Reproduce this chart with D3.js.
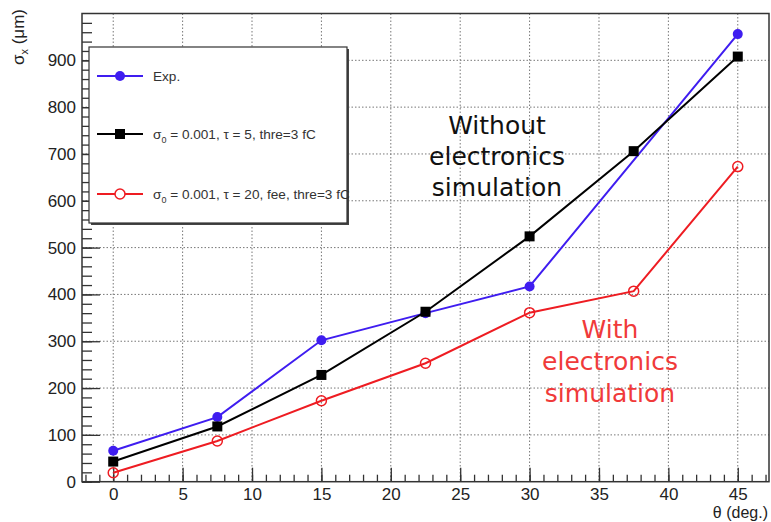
<!DOCTYPE html>
<html>
<head>
<meta charset="utf-8">
<script src="https://cdn.jsdelivr.net/npm/d3@7"></script>
<style>
  body { margin: 0; background: #fff; }
  svg { display: block; font-family: "Liberation Sans", Arial, sans-serif; }
</style>
</head>
<body>
<svg id="chart"></svg>
<script>
// Chart size matches the window
const width = 771;
const height = 522;

// Data
const theta = [0, 7.5, 15, 22.5, 30, 37.5, 45];
const expTheta = [0, 7.5, 15, 22.5, 30, 45];
const expVals = [66, 138, 302, 360, 417, 956];
const tau5Vals = [43, 118, 228, 363, 524, 706, 908];
const tau20Vals = [19, 87, 173, 253, 361, 407, 673];

const xTicks = [0, 5, 10, 15, 20, 25, 30, 35, 40, 45];
const yTicks = [0, 100, 200, 300, 400, 500, 600, 700, 800, 900];
const xMinor = d3.range(-2, 48, 1);
const yMinor = d3.range(0, 1000, 20);

const legendLabels = ["Exp.", "= 0.001, \u03c4 = 5, thre=3 fC", "= 0.001, \u03c4 = 20, fee, thre=3 fC"];

// Frame of the plot area
const plotLeft = 82, plotRight = 769, plotTop = 13.5, plotBottom = 481.7;

const svg = d3.select("#chart")
    .attr("width", width)
    .attr("height", height);

const x = d3.scaleLinear().domain([-2.25, 47.25]).range([plotLeft, plotRight]);
const y = d3.scaleLinear().domain([0, 1000]).range([plotBottom, plotTop]);

// Dotted grid
svg.append("g").selectAll("line")
    .data(xTicks)
    .enter().append("line")
    .attr("x1", d => x(d)).attr("x2", d => x(d))
    .attr("y1", plotTop).attr("y2", plotBottom)
    .attr("stroke", "#777").attr("stroke-width", 1)
    .attr("stroke-dasharray", "1.5,2");

svg.append("g").selectAll("line")
    .data(yTicks.filter(d => d > 0))
    .enter().append("line")
    .attr("x1", plotLeft).attr("x2", plotRight)
    .attr("y1", d => y(d)).attr("y2", d => y(d))
    .attr("stroke", "#777").attr("stroke-width", 1)
    .attr("stroke-dasharray", "1.5,2");

// Axes, ticks pointing into the frame
const xMinorAxis = svg.append("g")
    .attr("transform", `translate(0,${plotBottom})`)
    .call(d3.axisBottom(x).tickValues(xMinor).tickSize(-7).tickFormat(""));
const xAxis = svg.append("g")
    .attr("transform", `translate(0,${plotBottom})`)
    .call(d3.axisBottom(x).tickValues(xTicks).tickSize(-14).tickPadding(6));

const yMinorAxis = svg.append("g")
    .attr("transform", `translate(${plotLeft},0)`)
    .call(d3.axisLeft(y).tickValues(yMinor).tickSize(-10).tickFormat(""));
const yAxis = svg.append("g")
    .attr("transform", `translate(${plotLeft},0)`)
    .call(d3.axisLeft(y).tickValues(yTicks).tickSize(-18).tickPadding(6));

[xMinorAxis, xAxis, yMinorAxis, yAxis].forEach(a => {
    a.select(".domain").remove();
    a.selectAll(".tick line").attr("stroke", "#333").attr("stroke-width", 1.3);
    a.selectAll("text")
        .attr("font-family", "Liberation Sans, Arial, sans-serif")
        .attr("font-size", 17)
        .attr("fill", "#222");
});

// Frame
svg.append("rect")
    .attr("x", plotLeft).attr("y", plotTop)
    .attr("width", plotRight - plotLeft).attr("height", plotBottom - plotTop)
    .attr("fill", "none").attr("stroke", "#333").attr("stroke-width", 1.5);

// Axis titles
svg.append("text")
    .attr("x", 768).attr("y", 518)
    .attr("text-anchor", "end")
    .attr("font-size", 16).attr("fill", "#222")
    .text("\u03b8 (deg.)");

const yTitle = svg.append("text")
    .attr("transform", "translate(24,9) rotate(-90)")
    .attr("text-anchor", "end")
    .attr("font-size", 17).attr("fill", "#222");
yTitle.append("tspan").text("\u03c3");
yTitle.append("tspan").attr("font-size", 11).attr("dy", 4).text("x");
yTitle.append("tspan").attr("dy", -4).text(" (\u03bcm)");

// Series
const line = d3.line().x(d => x(d[0])).y(d => y(d[1]));
const blue = "#3f1df0", red = "#ee1c22";

function series(ts, vals, color) {
    const pts = ts.map((t, i) => [t, vals[i]]);
    svg.append("path")
        .datum(pts)
        .attr("d", line)
        .attr("fill", "none")
        .attr("stroke", color)
        .attr("stroke-width", 2);
    return pts;
}

const expPts = series(expTheta, expVals, blue);
svg.append("g").selectAll("circle")
    .data(expPts).enter().append("circle")
    .attr("cx", d => x(d[0])).attr("cy", d => y(d[1]))
    .attr("r", 5).attr("fill", blue);

const tau5Pts = series(theta, tau5Vals, "#000");
svg.append("g").selectAll("rect")
    .data(tau5Pts).enter().append("rect")
    .attr("x", d => x(d[0]) - 5).attr("y", d => y(d[1]) - 5)
    .attr("width", 10).attr("height", 10).attr("fill", "#000");

const tau20Pts = series(theta, tau20Vals, red);
svg.append("g").selectAll("circle")
    .data(tau20Pts).enter().append("circle")
    .attr("cx", d => x(d[0])).attr("cy", d => y(d[1]))
    .attr("r", 5).attr("fill", "none").attr("stroke", red).attr("stroke-width", 1.5);

// Legend box with shadow
svg.append("rect")
    .attr("x", 91).attr("y", 49).attr("width", 258).attr("height", 176)
    .attr("fill", "#444");
svg.append("rect")
    .attr("x", 89).attr("y", 47).attr("width", 258).attr("height", 176)
    .attr("fill", "#fff").attr("stroke", "#333").attr("stroke-width", 1.2);

const legendY = [76, 134, 194];
const legendColors = [blue, "#000", red];
legendY.forEach((ly, i) => {
    svg.append("line")
        .attr("x1", 97).attr("x2", 143).attr("y1", ly).attr("y2", ly)
        .attr("stroke", legendColors[i]).attr("stroke-width", 2);
    if (i === 0) {
        svg.append("circle").attr("cx", 120).attr("cy", ly).attr("r", 5).attr("fill", blue);
    } else if (i === 1) {
        svg.append("rect").attr("x", 115).attr("y", ly - 5).attr("width", 10).attr("height", 10).attr("fill", "#000");
    } else {
        svg.append("circle").attr("cx", 120).attr("cy", ly).attr("r", 5)
            .attr("fill", "#fff").attr("stroke", red).attr("stroke-width", 1.5);
    }
    const t = svg.append("text")
        .attr("x", 153).attr("y", ly + 5)
        .attr("font-size", 13.6).attr("fill", "#333");
    if (i === 0) {
        t.text(legendLabels[0]);
    } else {
        t.append("tspan").text("\u03c3");
        t.append("tspan").attr("font-size", 9).attr("dy", 4).text("0");
        t.append("tspan").attr("dy", -4).text(" " + legendLabels[i]);
    }
});

// Annotations
const noteBlack = ["Without", "electronics", "simulation"];
const noteRed = ["With", "electronics", "simulation"];
svg.append("g").selectAll("text")
    .data(noteBlack).enter().append("text")
    .attr("x", 497).attr("y", (d, i) => 134 + i * 31)
    .attr("text-anchor", "middle")
    .attr("font-family", "DejaVu Sans, sans-serif")
    .attr("font-size", 25).attr("fill", "#111")
    .text(d => d);
svg.append("g").selectAll("text")
    .data(noteRed).enter().append("text")
    .attr("x", 610).attr("y", (d, i) => 338 + i * 32)
    .attr("text-anchor", "middle")
    .attr("font-family", "DejaVu Sans, sans-serif")
    .attr("font-size", 25).attr("fill", "#f03a3a")
    .text(d => d);
</script>
</body>
</html>
